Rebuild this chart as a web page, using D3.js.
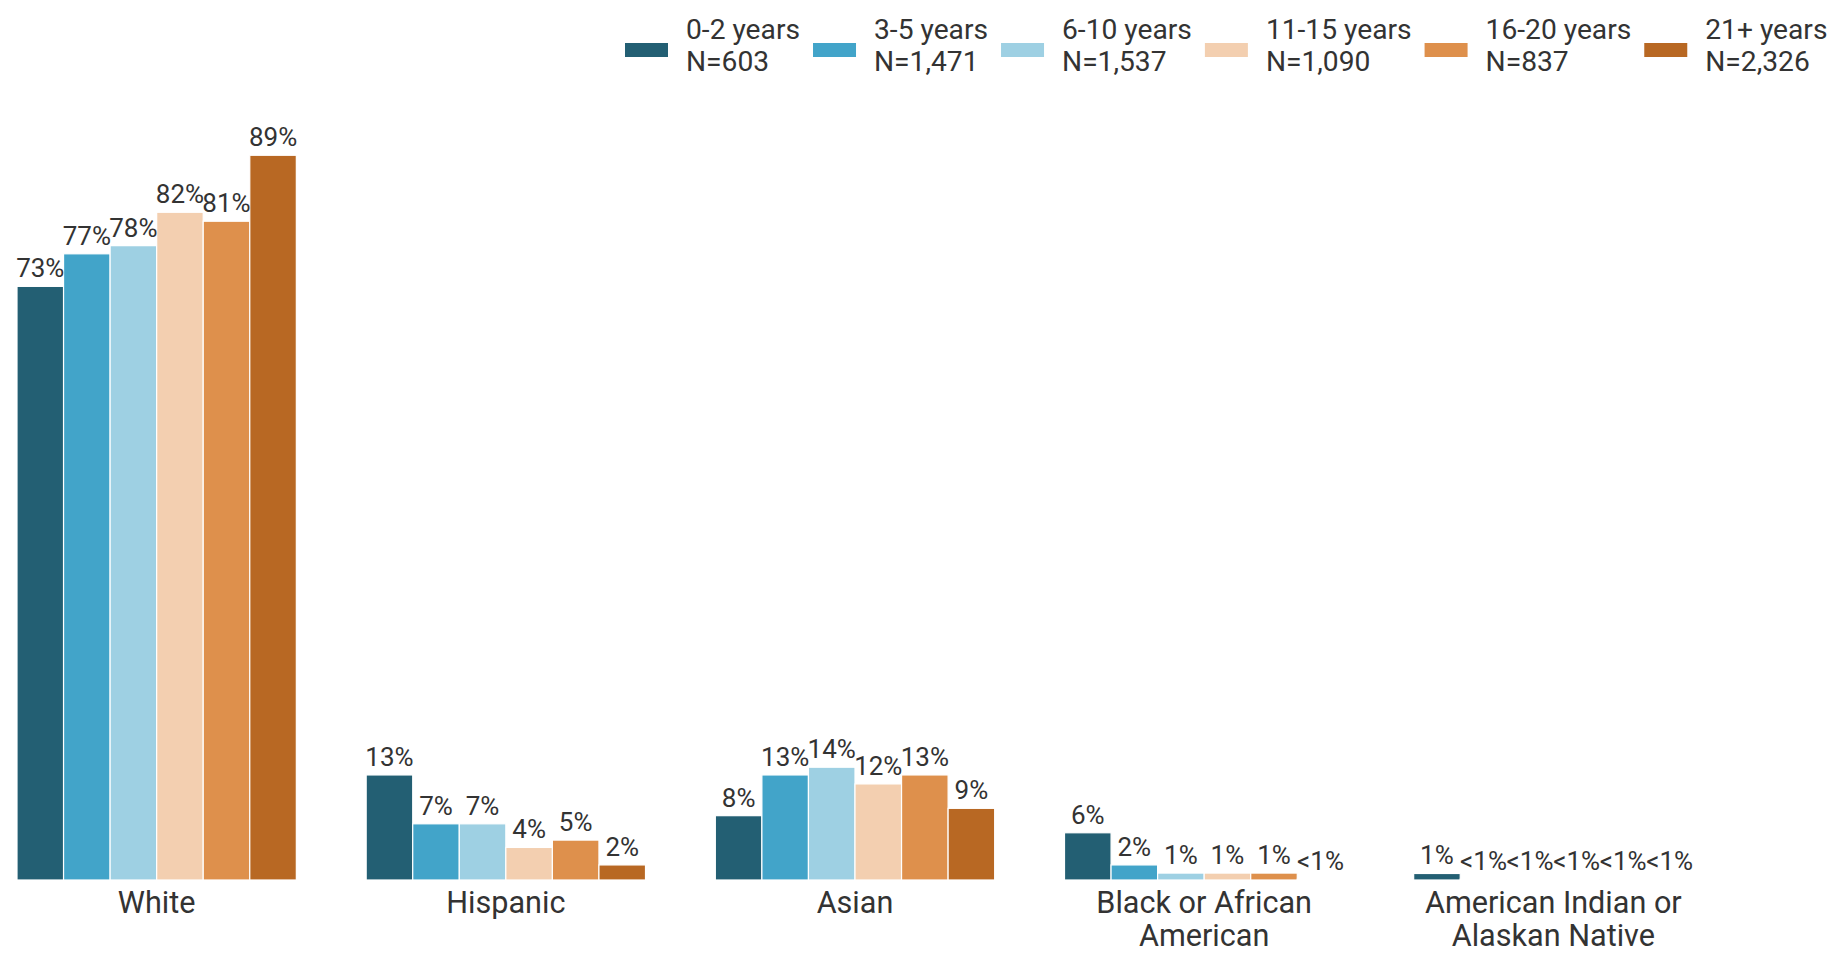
<!DOCTYPE html>
<html>
<head>
<meta charset="utf-8">
<script src="https://cdn.jsdelivr.net/npm/d3@7"></script>
<style>
  html, body { margin: 0; padding: 0; background: #fff; }
  svg text { font-family: Roboto, "Noto Sans", sans-serif; fill: #333; }
</style>
</head>
<body>
<svg id="chart" width="1845" height="959"></svg>
<script>
// ---- data ----
const categories = ["White", "Hispanic", "Asian", "Black or African American", "American Indian or Alaskan Native"];
const categoryLines = [["White"], ["Hispanic"], ["Asian"], ["Black or African", "American"], ["American Indian or", "Alaskan Native"]];
const seriesNames = ["0-2 years", "3-5 years", "6-10 years", "11-15 years", "16-20 years", "21+ years"];
const seriesN = ["N=603", "N=1,471", "N=1,537", "N=1,090", "N=837", "N=2,326"];
const colors = ["#235f73", "#42a4c9", "#9ed0e3", "#f3cfb0", "#de904c", "#b86823"];
const valWhite    = [72.9, 76.9, 77.9, 82.0, 80.9, 89.0];
const valHispanic = [12.9, 6.9, 6.9, 4.0, 4.9, 1.85];
const valAsian    = [7.9, 12.9, 13.85, 11.8, 12.9, 8.8];
const valBlack    = [5.8, 1.85, 0.85, 0.85, 0.85, 0.1];
const valAIAN     = [0.8, 0.1, 0.1, 0.1, 0.1, 0.1];
const labWhite    = ["73%", "77%", "78%", "82%", "81%", "89%"];
const labHispanic = ["13%", "7%", "7%", "4%", "5%", "2%"];
const labAsian    = ["8%", "13%", "14%", "12%", "13%", "9%"];
const labBlack    = ["6%", "2%", "1%", "1%", "1%", "<1%"];
const labAIAN     = ["1%", "<1%", "<1%", "<1%", "<1%", "<1%"];

const values = [valWhite, valHispanic, valAsian, valBlack, valAIAN];
const labels = [labWhite, labHispanic, labAsian, labBlack, labAIAN];

const svg = d3.select("#chart");

const x0 = d3.scaleBand().domain(categories).range([17, 1693]).paddingInner(0.2).paddingOuter(0);
const x1 = d3.scaleBand().domain(seriesNames).range([0, x0.bandwidth()]).padding(0);
const y = d3.scaleLinear().domain([0, 100]).range([880, 65.7]);

const rows = [];
categories.forEach((c, i) => {
  seriesNames.forEach((s, j) => {
    rows.push({cat: c, ser: s, v: values[i][j], lab: labels[i][j], color: colors[j]});
  });
});

const g = svg.append("g");
g.selectAll("rect.bar").data(rows).enter().append("rect")
  .attr("class", "bar")
  .attr("x", d => x0(d.cat) + x1(d.ser))
  .attr("y", d => y(d.v))
  .attr("width", x1.bandwidth())
  .attr("height", d => y(0) - y(d.v))
  .attr("fill", d => d.color)
  .attr("stroke", "#fff")
  .attr("stroke-width", 1.2);

g.selectAll("text.val").data(rows).enter().append("text")
  .attr("class", "val")
  .attr("x", d => x0(d.cat) + x1(d.ser) + x1.bandwidth() / 2)
  .attr("y", d => y(d.v) - 9)
  .attr("text-anchor", "middle")
  .attr("font-size", 26)
  .text(d => d.lab);

// category labels
const cl = svg.append("g");
categories.forEach((c, i) => {
  categoryLines[i].forEach((ln, k) => {
    cl.append("text")
      .attr("x", x0(c) + x0.bandwidth() / 2)
      .attr("y", 913 + k * 33)
      .attr("text-anchor", "middle")
      .attr("font-size", 30.6)
      .text(ln);
  });
});

// legend
const lg = svg.append("g");
let lx = 625;
seriesNames.forEach((s, j) => {
  lg.append("rect").attr("x", lx).attr("y", 43).attr("width", 43).attr("height", 14).attr("fill", colors[j]);
  const tx = lx + 61;
  const t1 = lg.append("text").attr("x", tx).attr("y", 39).attr("font-size", 28.2).text(s);
  const t2 = lg.append("text").attr("x", tx).attr("y", 71).attr("font-size", 28.2).text(seriesN[j]);
  const w = Math.max(t1.node().getComputedTextLength(), t2.node().getComputedTextLength());
  lx = tx + w + 13;
});
</script>
</body>
</html>
